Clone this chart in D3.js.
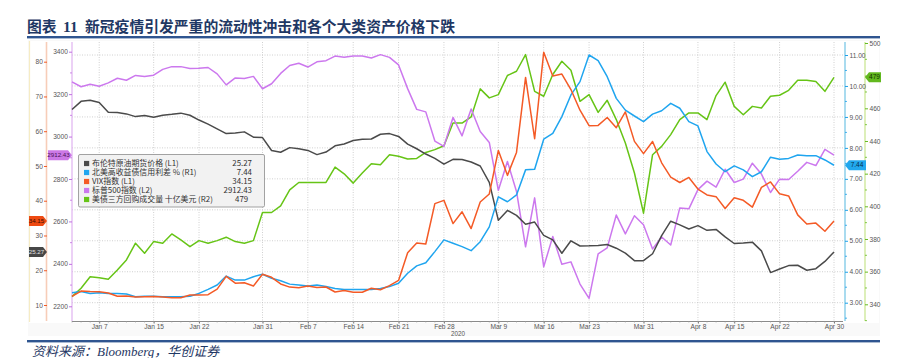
<!DOCTYPE html>
<html><head><meta charset="utf-8">
<script src="https://cdn.jsdelivr.net/npm/d3@7"></script>
<style>
body{margin:0;background:#fff}
svg{display:block}
.ax text{font-family:"Liberation Sans",Arial,sans-serif;font-size:6.6px;fill:#555}
</style>
</head><body>
<svg id="c" width="915" height="358"></svg>
<script>
// ---------- data ----------
const dates = [
"2020-01-02","2020-01-03","2020-01-06","2020-01-07","2020-01-08","2020-01-09","2020-01-10","2020-01-13","2020-01-14","2020-01-15","2020-01-16","2020-01-17","2020-01-20","2020-01-21","2020-01-22","2020-01-23","2020-01-24","2020-01-27","2020-01-28","2020-01-29","2020-01-30","2020-01-31",
"2020-02-03","2020-02-04","2020-02-05","2020-02-06","2020-02-07","2020-02-10","2020-02-11","2020-02-12","2020-02-13","2020-02-14","2020-02-17","2020-02-18","2020-02-19","2020-02-20","2020-02-21","2020-02-24","2020-02-25","2020-02-26","2020-02-27","2020-02-28",
"2020-03-02","2020-03-03","2020-03-04","2020-03-05","2020-03-06","2020-03-09","2020-03-10","2020-03-11","2020-03-12","2020-03-13","2020-03-16","2020-03-17","2020-03-18","2020-03-19","2020-03-20","2020-03-23","2020-03-24","2020-03-25","2020-03-26","2020-03-27","2020-03-30","2020-03-31",
"2020-04-01","2020-04-02","2020-04-03","2020-04-06","2020-04-07","2020-04-08","2020-04-09","2020-04-13","2020-04-14","2020-04-15","2020-04-16","2020-04-17","2020-04-20","2020-04-21","2020-04-22","2020-04-23","2020-04-24","2020-04-27","2020-04-28","2020-04-29","2020-04-30"];

const tickDates  = ["2020-01-07","2020-01-15","2020-01-22","2020-01-31","2020-02-07","2020-02-14","2020-02-21","2020-02-28","2020-03-09","2020-03-16","2020-03-23","2020-03-31","2020-04-08","2020-04-15","2020-04-22","2020-04-30"];
const tickLabels = ["Jan 7","Jan 15","Jan 22","Jan 31","Feb 7","Feb 14","Feb 21","Feb 28","Mar 9","Mar 16","Mar 23","Mar 31","Apr 8","Apr 15","Apr 22","Apr 30"];

// Brent crude futures (L1)
const brent = [66.25,68.60,68.91,68.27,65.44,65.37,64.98,64.20,64.49,64.00,64.62,64.85,65.20,64.59,63.21,62.04,60.69,59.32,59.51,59.81,58.29,58.16,
54.45,53.96,55.28,54.93,54.47,53.27,54.01,55.79,56.34,57.32,57.67,57.75,59.12,59.31,58.50,56.30,54.95,53.43,52.18,50.52,
51.90,51.86,51.13,49.99,45.27,34.36,37.22,35.79,33.22,33.85,30.05,28.73,24.88,28.47,26.98,27.03,27.15,27.39,26.34,24.93,22.76,22.74,
24.74,29.94,34.11,33.05,31.87,32.84,31.48,31.74,29.60,27.69,27.82,28.08,25.57,19.33,20.37,21.33,21.44,19.99,20.46,22.54,25.27];

// US high-yield credit spread % (R1)
const hySpread = [3.32,3.36,3.30,3.32,3.30,3.30,3.28,3.19,3.21,3.21,3.19,3.19,3.19,3.21,3.30,3.43,3.57,3.86,3.73,3.73,3.84,3.92,
3.79,3.71,3.60,3.57,3.54,3.57,3.52,3.46,3.43,3.43,3.43,3.43,3.46,3.52,3.63,3.95,4.19,4.29,4.65,5.03,
4.92,4.81,4.68,4.97,5.45,6.42,6.26,6.48,7.29,7.31,8.28,8.47,9.01,9.71,10.14,11.00,10.82,10.30,9.60,9.22,9.03,8.85,
9.09,9.20,9.44,9.28,8.85,8.71,7.88,7.48,7.23,7.42,7.29,7.07,7.23,7.70,7.63,7.66,7.77,7.75,7.75,7.61,7.44];

// VIX (L1)
const vix = [12.47,14.02,13.85,13.79,13.45,12.54,12.56,12.32,12.39,12.42,12.32,12.10,12.10,12.85,12.91,12.98,14.56,18.23,16.28,16.39,15.49,18.84,
17.97,16.05,15.15,14.96,15.47,15.04,15.18,13.74,14.15,13.68,13.68,14.83,14.38,15.56,17.08,25.03,27.85,27.56,39.16,40.11,
33.42,36.82,31.99,39.62,41.94,54.46,47.30,53.90,75.47,57.83,82.69,75.91,76.45,72.00,66.04,61.59,61.67,63.95,61.00,65.54,57.08,53.54,
57.06,50.91,46.80,45.24,46.70,43.35,41.67,41.17,37.76,40.84,40.11,38.15,43.83,45.41,41.98,41.38,35.93,33.29,33.57,31.23,34.15];

// S&P 500 (L2)
const spx = [3257.85,3234.85,3246.28,3237.18,3253.05,3274.70,3265.35,3288.13,3283.15,3289.29,3316.81,3329.62,3329.62,3320.79,3321.75,3325.54,3295.47,3243.63,3276.24,3273.40,3283.66,3225.52,
3248.92,3297.59,3334.69,3345.78,3327.71,3352.09,3357.75,3379.45,3373.94,3380.16,3380.16,3370.29,3386.15,3373.23,3337.75,3225.89,3128.21,3116.39,2978.76,2954.22,
3090.23,3003.37,3130.12,3023.94,2972.37,2746.56,2882.23,2741.38,2480.64,2711.02,2386.13,2529.19,2398.10,2409.39,2304.92,2237.40,2447.33,2475.56,2630.07,2541.47,2626.65,2584.59,
2470.50,2526.90,2488.65,2663.68,2659.41,2749.98,2789.82,2761.63,2846.06,2783.36,2799.55,2874.56,2823.16,2736.56,2799.31,2797.80,2836.74,2878.48,2863.39,2939.51,2912.43];

// US Treasury tri-party repo volume, USD bn (R2)
const repo = [344.7,349.8,356.9,356.3,355.3,361.0,367.2,377.4,371.3,378.4,377.4,383.1,379.4,375.3,379.0,377.4,379.0,381.1,378.4,377.4,379.0,396.2,
396.2,400.3,410.1,414.6,414.6,414.6,414.6,424.0,419.9,414.2,420.4,426.1,425.5,431.6,430.6,429.0,429.3,433.0,434.7,437.1,
451.0,451.0,454.7,471.9,466.4,468.4,480.1,482.7,492.9,470.4,467.4,480.7,488.8,483.3,464.3,468.4,457.5,464.9,453.1,438.8,420.4,395.8,
431.6,436.7,443.9,453.1,457.2,457.2,453.1,467.8,476.0,461.2,456.1,461.2,460.2,467.4,468.0,471.0,477.2,477.2,476.4,470.4,479.0];

const seriesNames = ["布伦特原油期货价格 (L1)","北美高收益债信用利差 % (R1)","VIX指数 (L1)","标普500指数 (L2)","美债三方回购成交量 十亿美元 (R2)"];
const lastLabels  = ["25.27","7.44","34.15","2912.43","479"];

const L1Ticks = [10,20,30,40,50,60,70,80];
const L2Ticks = [2200,2400,2600,2800,3000,3200,3400];
const R1Ticks = [3,4,5,6,7,8,9,10,11];
const R2Ticks = [340,360,380,400,420,440,460,480,500];

// ---------- drawing ----------
const svg = d3.select("#c");
const P = {l:72, r:843, t:42, b:321};

const x   = d3.scalePoint().domain(dates).range([72, 834]);
const yL1 = d3.scaleLinear().domain([10,80]).range([305,61.7]);
const yL2 = d3.scaleLinear().domain([2200,3400]).range([306.3,51.7]);
const yR1 = d3.scaleLinear().domain([3,11]).range([302.7,55]);
const yR2 = d3.scaleLinear().domain([340,500]).range([304.3,43]);

// title
const title = svg.append("text").attr("y",31.5)
  .style("font-family","'Noto Sans CJK SC',sans-serif").style("font-weight","bold")
  .style("font-size","14.8px").style("fill","#1f3864");
title.append("tspan").attr("x",27).text("图表");
title.append("tspan").attr("x",63).style("font-family","'Liberation Serif',serif").style("font-size","15.5px").text("11");
title.append("tspan").attr("x",85).text("新冠疫情引发严重的流动性冲击和各个大类资产价格下跌");
svg.append("rect").attr("x",27).attr("y",36).attr("width",853).attr("height",2.4).attr("fill","#2f5590");

// panel
svg.append("rect").attr("x",28).attr("y",40).attr("width",852).attr("height",296).attr("fill","#f9f9f9");
svg.append("rect").attr("x",29).attr("y",41).attr("width",850).attr("height",282).attr("fill","#ffffff");
svg.append("line").attr("x1",29.5).attr("x2",29.5).attr("y1",41).attr("y2",322).attr("stroke","#f6ecc4").attr("stroke-width",1.2);

// grid
const grid = svg.append("g");
grid.selectAll("line.v").data(tickDates).join("line")
  .attr("x1",d=>x(d)).attr("x2",d=>x(d)).attr("y1",P.t).attr("y2",P.b)
  .attr("stroke","#c4c4c4").attr("stroke-width",0.8).attr("stroke-dasharray","1,1.5");
grid.selectAll("line.h").data(R1Ticks).join("line")
  .attr("x1",P.l).attr("x2",P.r).attr("y1",d=>yR1(d)).attr("y2",d=>yR1(d))
  .attr("stroke","#c4c4c4").attr("stroke-width",0.8).attr("stroke-dasharray","1,1.5");

// axis lines (coloured bands)
function vline(xp,col,w){svg.append("line").attr("x1",xp).attr("x2",xp).attr("y1",P.t).attr("y2",P.b).attr("stroke",col).attr("stroke-width",w);}
vline(46.5,"#f7cdb8",1.6);
vline(72,"#dfb3f0",1.2);
vline(845,"#a9dbef",2);
vline(865,"#cfe99c",1.4);

function styleAxis(g,col){
  g.attr("class","ax");
  g.select(".domain").remove();
  g.selectAll(".tick line").attr("stroke",col).attr("stroke-width",1);
}
function minor(xp,scale,vals,col,dir){
  svg.append("g").selectAll("line").data(vals).join("line")
   .attr("x1",xp).attr("x2",xp+dir*2).attr("y1",d=>scale(d)).attr("y2",d=>scale(d))
   .attr("stroke",col).attr("stroke-width",0.8);
}
const gL1 = svg.append("g").attr("transform","translate(47,0)")
  .call(d3.axisLeft(yL1).tickValues(L1Ticks).tickSize(3).tickPadding(1.2));
styleAxis(gL1,"#f05a28");
const gL2 = svg.append("g").attr("transform","translate(72,0)")
  .call(d3.axisLeft(yL2).tickValues(L2Ticks).tickSize(3).tickPadding(1.2).tickFormat(d3.format("d")));
styleAxis(gL2,"#c070e0");
minor(72,yL2,L2Ticks.slice(0,-1).map(v=>v+100),"#c070e0",-1);
const gR1 = svg.append("g").attr("transform","translate(845,0)")
  .call(d3.axisRight(yR1).tickValues(R1Ticks).tickSize(3).tickPadding(1.5).tickFormat(d3.format(".2f")));
styleAxis(gR1,"#1ea0e8");
minor(845,yR1,R1Ticks.map(v=>v-0.5),"#1ea0e8",1);
const gR2 = svg.append("g").attr("transform","translate(865,0)")
  .call(d3.axisRight(yR2).tickValues(R2Ticks).tickSize(3).tickPadding(1.5));
styleAxis(gR2,"#66bb22");
minor(865,yR2,R2Ticks.map(v=>v-10),"#66bb22",1);

// x axis
const gX = svg.append("g").attr("transform",`translate(0,${P.b})`)
  .call(d3.axisBottom(x).tickValues(tickDates).tickFormat((d,i)=>tickLabels[i]).tickSize(2.5).tickPadding(0.5));
gX.attr("class","ax");
gX.select(".domain").remove();
gX.selectAll(".tick line").attr("stroke","#777");
svg.append("line").attr("x1",P.l).attr("x2",P.r).attr("y1",P.b+0.5).attr("y2",P.b+0.5).attr("stroke","#8a8a8a").attr("stroke-width",1);
svg.append("g").selectAll("line").data(dates).join("line")
  .attr("x1",d=>x(d)).attr("x2",d=>x(d)).attr("y1",P.b).attr("y2",P.b+1.6)
  .attr("stroke","#999").attr("stroke-width",0.6);
svg.append("text").attr("class","ax").attr("x",458).attr("y",335.5).attr("text-anchor","middle")
  .style("font-family","'Liberation Sans',Arial,sans-serif").style("font-size","6.3px").style("fill","#555").text("2020");

// lines
const cols = ["#4a4a4a","#1fa5ef","#f45a26","#cc78ee","#66c416"];
const series = [
  {v:brent, y:yL1, c:cols[0]},
  {v:hySpread, y:yR1, c:cols[1]},
  {v:vix, y:yL1, c:cols[2]},
  {v:spx, y:yL2, c:cols[3]},
  {v:repo, y:yR2, c:cols[4]}
];
const order = [4,3,0,1,2];
order.forEach(k=>{
  const s = series[k];
  svg.append("path").datum(s.v)
    .attr("fill","none").attr("stroke",s.c).attr("stroke-width",1.5).attr("stroke-linejoin","round")
    .attr("d", d3.line().x((d,i)=>x(dates[i])).y(d=>s.y(d)));
});

// value tags
function tagLeft(x0,x1,yc,fill,txtCol,label,fs){
  const h=5;
  svg.append("path").attr("d",`M${x0},${yc-h}H${x1-4}L${x1},${yc}L${x1-4},${yc+h}H${x0}Z`).attr("fill",fill);
  svg.append("text").attr("x",(x0+x1-3)/2).attr("y",yc+2.2).attr("text-anchor","middle")
    .style("font-family","'Liberation Sans',Arial,sans-serif").style("font-size",fs+"px").style("fill",txtCol).text(label);
}
function tagRight(x0,x1,yc,fill,txtCol,label,fs){
  const h=5;
  svg.append("path").attr("d",`M${x0},${yc}L${x0+4},${yc-h}H${x1}V${yc+h}H${x0+4}Z`).attr("fill",fill);
  svg.append("text").attr("x",(x0+x1+3)/2).attr("y",yc+2.2).attr("text-anchor","middle")
    .style("font-family","'Liberation Sans',Arial,sans-serif").style("font-size",fs+"px").style("fill",txtCol).text(label);
}
const n = dates.length-1;
tagLeft(48,72,yL2(spx[n]),"#cc78e6","#4a1458",lastLabels[3],6.2);
tagLeft(29,47,yL1(vix[n]),"#ee4a12","#3a1000",lastLabels[2],6.2);
tagLeft(29,47,yL1(brent[n]),"#474747","#e0e0e0",lastLabels[0],6.2);
tagRight(845,866,yR1(hySpread[n]),"#22a8ee","#08304a",lastLabels[1],6.5);
tagRight(865,881,yR2(repo[n]),"#62b81e","#123000",lastLabels[4],6.5);

// legend
const lg = svg.append("g");
lg.append("rect").attr("x",78.5).attr("y",154.5).attr("width",186).attr("height",52.5)
  .attr("fill","#f2f2f2").attr("stroke","#8c8c8c").attr("stroke-width",0.8).attr("rx",1.5);
seriesNames.forEach((nm,i)=>{
  const yc = 163.5 + i*9;
  lg.append("rect").attr("x",84).attr("y",yc-2.6).attr("width",5.2).attr("height",5.2).attr("fill",cols[i]);
  lg.append("text").attr("x",92).attr("y",yc+2.8)
    .style("font-family","'Noto Sans CJK SC',sans-serif").style("font-size","7.9px").style("fill","#333").text(nm);
  const vt = lg.append("text").attr("y",yc+2.8)
    .style("font-family","'Noto Sans CJK SC',sans-serif").style("font-size","7.9px").style("fill","#333").text(lastLabels[i]);
  if(i===4) vt.attr("x",235); else vt.attr("x",252).attr("text-anchor","end");
});

// footer
svg.append("rect").attr("x",27).attr("y",340).attr("width",853).attr("height",2.4).attr("fill","#2f5590");
svg.append("text").attr("x",32).attr("y",355.5)
  .style("font-family","'Liberation Serif','Noto Sans CJK SC',serif").style("font-style","italic")
  .style("font-size","13px").style("fill","#1f3864").text("资料来源：Bloomberg，华创证券");
</script>
</body></html>
